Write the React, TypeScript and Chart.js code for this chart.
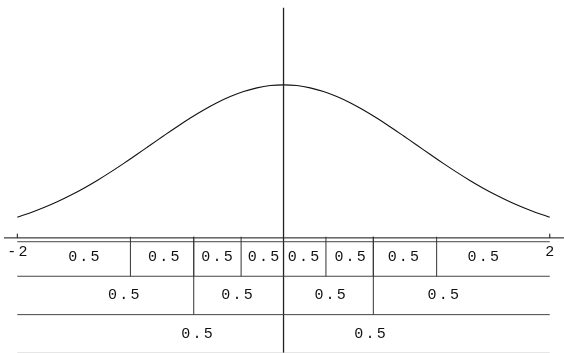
import React, { useEffect, useRef } from "react";
import { Chart, registerables } from "chart.js";

Chart.register(...registerables);

// Density curve sampled every 0.1 on [-2, 2]
const curveX = [
  -2.0, -1.9, -1.8, -1.7, -1.6, -1.5, -1.4, -1.3, -1.2, -1.1, -1.0,
  -0.9, -0.8, -0.7, -0.6, -0.5, -0.4, -0.3, -0.2, -0.1, 0.0,
  0.1, 0.2, 0.3, 0.4, 0.5, 0.6, 0.7, 0.8, 0.9, 1.0,
  1.1, 1.2, 1.3, 1.4, 1.5, 1.6, 1.7, 1.8, 1.9, 2.0,
];
const curveY = [
  0.054, 0.0656, 0.079, 0.094, 0.1109, 0.1295, 0.1497, 0.1714, 0.1942, 0.2179, 0.242,
  0.2661, 0.2897, 0.3123, 0.3332, 0.3521, 0.3683, 0.3814, 0.391, 0.397, 0.3989,
  0.397, 0.391, 0.3814, 0.3683, 0.3521, 0.3332, 0.3123, 0.2897, 0.2661, 0.242,
  0.2179, 0.1942, 0.1714, 0.1497, 0.1295, 0.1109, 0.094, 0.079, 0.0656, 0.054,
];

// Axis ticks
const tickValues = [-2, 2];
const tickLabels = ["-2", "2"];

// Table of bands below the axis: cell boundaries per row
const row1Edges = [-1.1503, -0.6745, -0.3186, 0, 0.3186, 0.6745, 1.1503];
const row2Edges = [-0.6745, 0, 0.6745];
const row3Edges = [0];

// Label positions per row
const row1LabelX = [-1.5, -0.9, -0.5, -0.15, 0.15, 0.5, 0.9, 1.5];
const row2LabelX = [-1.2, -0.35, 0.35, 1.2];
const row3LabelX = [-0.65, 0.65];
const row1Labels = ["0.5", "0.5", "0.5", "0.5", "0.5", "0.5", "0.5", "0.5"];
const row2Labels = ["0.5", "0.5", "0.5", "0.5"];
const row3Labels = ["0.5", "0.5"];

const X_MIN = -2.13;
const X_MAX = 2.107;
const Y_MIN = -0.3;
const Y_MAX = 0.62;

const rowLineY = [-0.01, -0.1, -0.2, -0.3];
const rowLineColor = ["#444", "#444", "#444", "#ccc"];
const rowBottomY = [-0.1, -0.2, -0.3];
const rowLabelY = [-0.05, -0.15, -0.25];

const FONT = '15px "Liberation Mono", "DejaVu Sans Mono", monospace';
const SPACING = 2.2;

const tablePlugin = {
  id: "bandTable",
  afterDatasetsDraw(chart: any) {
    const ctx: CanvasRenderingContext2D = chart.ctx;
    const xs = chart.scales.x;
    const ys = chart.scales.y;
    const px = (v: number) => xs.getPixelForValue(v);
    const py = (v: number) => ys.getPixelForValue(v);

    const seg = (x1: number, y1: number, x2: number, y2: number, color: string, w: number) => {
      ctx.beginPath();
      ctx.strokeStyle = color;
      ctx.lineWidth = w;
      ctx.moveTo(x1, y1);
      ctx.lineTo(x2, y2);
      ctx.stroke();
    };

    ctx.save();

    // axes
    seg(px(-2.1), py(0), px(2.11), py(0), "#111", 1);
    seg(px(0), py(0.6), px(0), py(Y_MIN), "#222", 1.3);
    tickValues.forEach((t) => seg(px(t), py(0), px(t), py(0.011), "#111", 1));

    // band rows
    rowLineY.forEach((y, i) => seg(px(-2), py(y), px(2), py(y), rowLineColor[i], 1));
    const edgesByRow = [row1Edges, row2Edges, row3Edges];
    edgesByRow.forEach((edges, r) => {
      edges.forEach((e) => {
        if (e === 0) return;
        seg(px(e), py(0.003), px(e), py(rowBottomY[r]), "#333", 1);
      });
    });

    // text
    ctx.fillStyle = "#111";
    ctx.font = FONT;
    (ctx as any).letterSpacing = SPACING + "px";
    ctx.textAlign = "center";
    ctx.textBaseline = "middle";
    const put = (s: string, x: number, y: number) => ctx.fillText(s, x + SPACING / 2, y);

    tickValues.forEach((t, i) => put(tickLabels[i], px(t), py(-0.038)));
    const xsByRow = [row1LabelX, row2LabelX, row3LabelX];
    const labelsByRow = [row1Labels, row2Labels, row3Labels];
    xsByRow.forEach((lx, r) => {
      lx.forEach((x, i) => put(labelsByRow[r][i], px(x), py(rowLabelY[r])));
    });

    ctx.restore();
  },
};

export default function App() {
  const canvasRef = useRef<HTMLCanvasElement>(null);

  useEffect(() => {
    const chart = new Chart(canvasRef.current!, {
      type: "line",
      data: {
        datasets: [
          {
            data: curveX.map((x, i) => ({ x, y: curveY[i] })),
            borderColor: "#111",
            borderWidth: 1.1,
            pointRadius: 0,
            tension: 0.4,
            fill: false,
          },
        ],
      },
      options: {
        responsive: false,
        maintainAspectRatio: false,
        animation: false,
        events: [],
        layout: { padding: 0 },
        plugins: {
          legend: { display: false },
          tooltip: { enabled: false },
        },
        scales: {
          x: { type: "linear", min: X_MIN, max: X_MAX, display: false },
          y: { type: "linear", min: Y_MIN, max: Y_MAX, display: false },
        },
      },
      plugins: [tablePlugin],
    });
    return () => chart.destroy();
  }, []);

  return (
    <div style={{ position: "absolute", left: 0, top: 0, width: 564, height: 353, background: "#fff" }}>
      <canvas ref={canvasRef} width={564} height={353} style={{ display: "block" }} />
    </div>
  );
}
